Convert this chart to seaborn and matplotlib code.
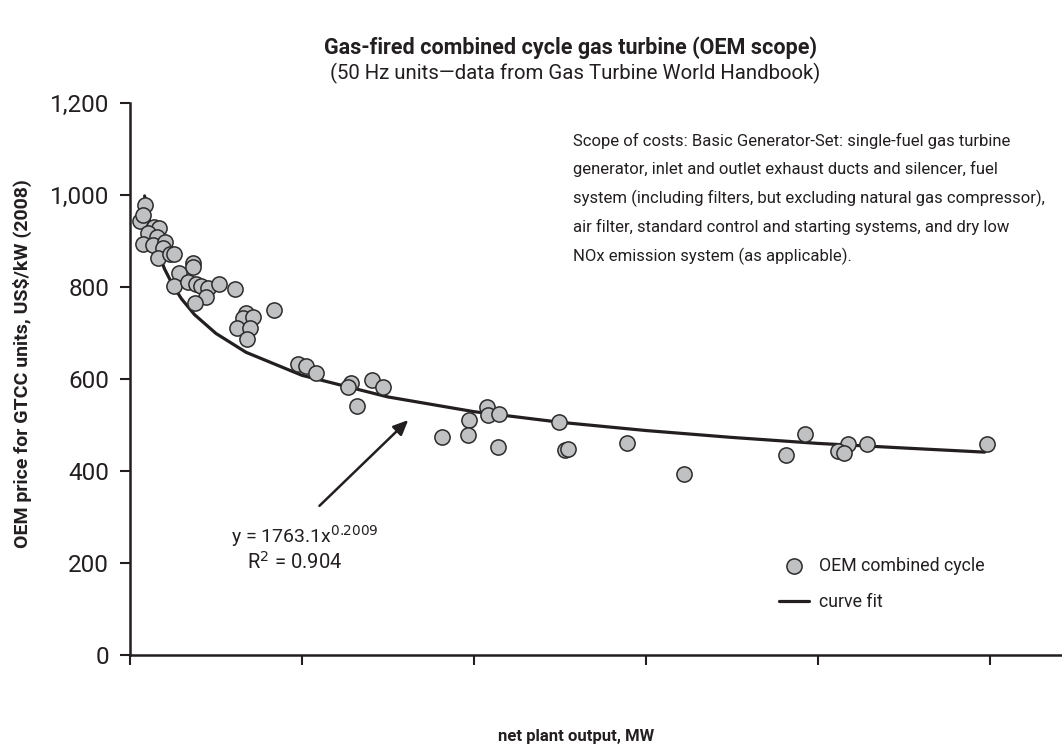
import matplotlib
matplotlib.use("Agg")
import matplotlib.pyplot as plt
import seaborn as sns
import pandas as pd

# --- data ---
plant_mw = [17, 12, 15, 28, 34, 21, 31, 15, 27, 41, 38, 33, 47, 51, 73, 73, 57, 51, 67, 77,
            83, 91, 88, 103, 122, 76, 167, 135, 131, 143, 124, 140, 136,
            195, 205, 216, 257, 254, 282, 294, 264, 415, 416, 429, 394, 393, 363, 428,
            499, 506, 510, 578, 644,
            763, 785, 835, 823, 831, 857, 997]
price_kw = [978, 943, 957, 930, 928, 917, 909, 893, 891, 898, 885, 863, 872, 872, 852, 843, 830, 802, 811, 807,
            802, 798, 778, 807, 795, 765, 750, 743, 733, 735, 711, 711, 687,
            633, 628, 613, 591, 583, 598, 583, 541, 539, 522, 524, 511, 478, 474, 452,
            506, 446, 448, 461, 393,
            435, 480, 459, 444, 439, 459, 459]

fit_mw = [17, 20, 30, 40, 50, 60, 75, 100, 135, 200, 300, 400, 500, 600, 700, 800, 900, 994]
fit_price = [998, 966, 890, 840, 803, 774, 740, 699, 658, 608, 561, 529, 506, 488, 473, 460, 450, 441]

y_ticks = [0, 200, 400, 600, 800, 1000, 1200]
y_tick_labels = ["0", "200", "400", "600", "800", "1,000", "1,200"]
x_ticks = [0, 200, 400, 600, 800, 1000]

scope_text = ("Scope of costs: Basic Generator-Set: single-fuel gas turbine\n"
              "generator, inlet and outlet exhaust ducts and silencer, fuel\n"
              "system (including filters, but excluding natural gas compressor),\n"
              "air filter, standard control and starting systems, and dry low\n"
              "NOx emission system (as applicable).")

pts = pd.DataFrame({"mw": plant_mw, "price": price_kw})
fit = pd.DataFrame({"mw": fit_mw, "price": fit_price})

sns.set_style("ticks")
plt.rcParams["font.family"] = ["Roboto", "DejaVu Sans"]
text_color = "#231f20"

fig = plt.figure(figsize=(10.62, 7.5), dpi=100)
ax = fig.add_axes([130 / 1062, 1 - 655 / 750, 1 - 130 / 1062, (655 - 103) / 750])

sns.lineplot(data=fit, x="mw", y="price", ax=ax, color=text_color, linewidth=2.3,
             label="curve fit", zorder=2)
sns.scatterplot(data=pts, x="mw", y="price", ax=ax, s=120, color="#c0c1c3",
                edgecolor="#2b2b2b", linewidth=1.1, label="OEM combined cycle", zorder=3)

ax.set_xlim(0, 1084)
ax.set_ylim(0, 1200)
ax.set_xticks(x_ticks)
ax.set_xticklabels([])
ax.set_yticks(y_ticks)
ax.set_yticklabels(y_tick_labels, fontsize=17.5, color=text_color)
ax.tick_params(axis="both", direction="out", length=7, width=1.5, color=text_color, pad=8)
for side in ["top", "right"]:
    ax.spines[side].set_visible(False)
for side in ["left", "bottom"]:
    ax.spines[side].set_linewidth(1.8)
    ax.spines[side].set_color(text_color)
ax.set_xlabel("")
ax.set_ylabel("")

fig.text(22 / 1062, 1 - 364 / 750, "OEM price for GTCC units, US$/kW (2008)", rotation=90,
         ha="center", va="center", fontsize=14, fontweight="bold", color=text_color)
fig.text(576 / 1062, 1 - 736 / 750, "net plant output, MW", ha="center", va="center",
         fontsize=12, fontweight="bold", color=text_color)
fig.text(570 / 1062, 1 - 48 / 750, "Gas-fired combined cycle gas turbine (OEM scope)",
         ha="center", va="center", fontsize=15.5, fontweight="bold", color=text_color)
fig.text(575 / 1062, 1 - 73 / 750, "(50 Hz units\u2014data from Gas Turbine World Handbook)",
         ha="center", va="center", fontsize=14.7, color=text_color)

ax.text(515, 1135, scope_text, ha="left", va="top", fontsize=12, color=text_color,
        linespacing=1.94)

ax.annotate("", xy=(326, 515), xytext=(218, 320),
            arrowprops=dict(arrowstyle="-|>,head_length=0.9,head_width=0.4",
                            color=text_color, lw=1.8))
ax.text(203, 258, r"y = 1763.1x$^{0.2009}$", ha="center", va="center", fontsize=14,
        color=text_color)
ax.text(192, 202, r"R$^2$ = 0.904", ha="center", va="center", fontsize=14.5, color=text_color)

handles, labels = ax.get_legend_handles_labels()
order = [labels.index("OEM combined cycle"), labels.index("curve fit")]
ax.legend([handles[i] for i in order], [labels[i] for i in order],
          loc="upper left", bbox_to_anchor=(763 / 1062, 1 - 541 / 750),
          bbox_transform=fig.transFigure, frameon=False, fontsize=12.8,
          handlelength=1.7, handletextpad=0.55, labelspacing=1.0, labelcolor=text_color)

fig.savefig("out.png", dpi=100)
